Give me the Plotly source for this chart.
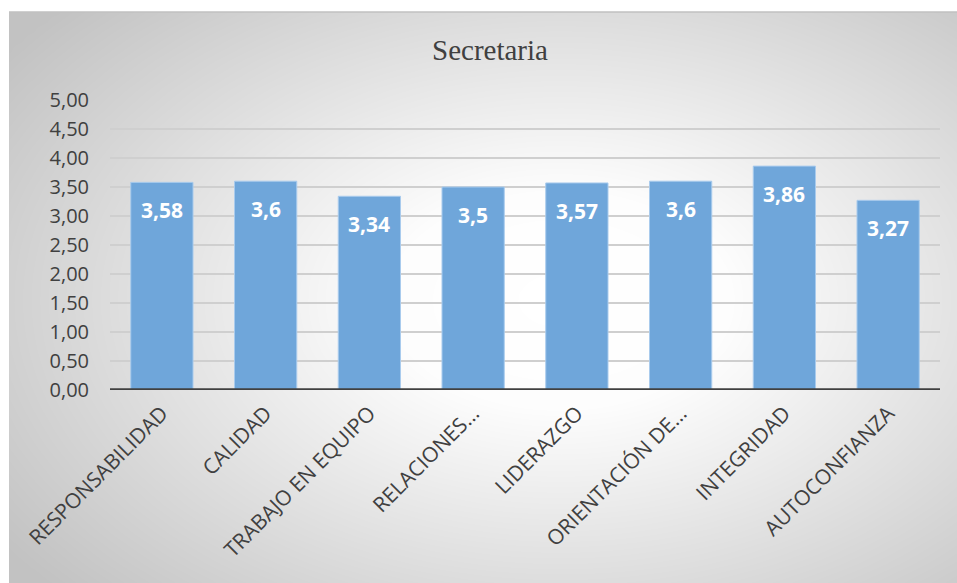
import numpy as np
import plotly.graph_objects as go

categories = ["RESPONSABILIDAD", "CALIDAD", "TRABAJO EN EQUIPO", "RELACIONES…",
              "LIDERAZGO", "ORIENTACIÓN DE…", "INTEGRIDAD", "AUTOCONFIANZA"]
values = [3.58, 3.6, 3.34, 3.5, 3.57, 3.6, 3.86, 3.27]
value_labels = ["3,58", "3,6", "3,34", "3,5", "3,57", "3,6", "3,86", "3,27"]
title_text = "Secretaria"

W, H = 957, 583

# radial gradient background (style only)
gx = np.linspace(9, W, 80)
gy = np.linspace(12, H, 60)
XX, YY = np.meshgrid(gx, gy)
cx, cy = 560, 300
d = np.sqrt(((XX - cx) / 680) ** 2 + ((YY - cy) / 430) ** 2)
d = np.clip(d, 0, 1)

fig = go.Figure()
fig.add_trace(go.Heatmap(
    x=gx, y=gy, z=d, zsmooth="best", showscale=False, hoverinfo="skip",
    colorscale=[[0, "#ffffff"], [0.25, "#fdfdfd"], [1, "#c2c2c2"]],
    zmin=0, zmax=1, xaxis="x", yaxis="y"))

fig.add_trace(go.Bar(
    x=categories, y=values, width=0.6, xaxis="x2", yaxis="y2",
    marker=dict(color="#6fa6da", line=dict(color="#a9cbed", width=1)),
    hoverinfo="skip"))

for c, v, t in zip(categories, values, value_labels):
    fig.add_annotation(x=c, y=v, text="<b>%s</b>" % t, showarrow=False,
                       yshift=-28, xref="x2", yref="y2",
                       font=dict(family="Open Sans", size=21, color="white"))

fig.update_layout(
    width=W, height=H,
    margin=dict(l=0, r=0, t=0, b=0, autoexpand=False),
    paper_bgcolor="white", plot_bgcolor="rgba(0,0,0,0)",
    showlegend=False,
    separators=",.",
    title=dict(text=title_text, x=490 / W, xanchor="center", y=1 - 50 / H, yanchor="middle",
               font=dict(family="Liberation Serif", size=29, color="#404040")),
    xaxis=dict(domain=[9 / W, 1], range=[9, W], visible=False, fixedrange=True, automargin=False),
    yaxis=dict(domain=[0, 1 - 12 / H], range=[H, 12], visible=False, fixedrange=True,
               anchor="x", automargin=False),
    xaxis2=dict(domain=[110 / W, 940 / W], anchor="y2", showgrid=False, automargin=False,
                tickangle=-45, ticks="", showline=False, ticklabelstandoff=6,
                tickfont=dict(family="Open Sans", size=21, color="#404040")),
    yaxis2=dict(domain=[1 - 390 / H, 1 - 100 / H], anchor="x2", range=[0, 5], automargin=False,
                dtick=0.5, tickformat=".2f", showgrid=True, gridcolor="#cfcfcf", gridwidth=1.5,
                zeroline=False, showline=False, ticks="", ticklabelstandoff=20,
                tickfont=dict(family="Open Sans", size=20, color="#404040")),
    bargap=0.4,
)
fig.add_shape(type="line", xref="x2 domain", yref="y2", x0=0, x1=1, y0=0, y1=0,
              line=dict(color="#404040", width=3.5))
fig.add_shape(type="line", xref="paper", yref="paper", x0=9 / W, x1=1, y0=1 - 12 / H, y1=1 - 12 / H,
              line=dict(color="#c0c0c0", width=1.5))

fig.write_html("out.html")
